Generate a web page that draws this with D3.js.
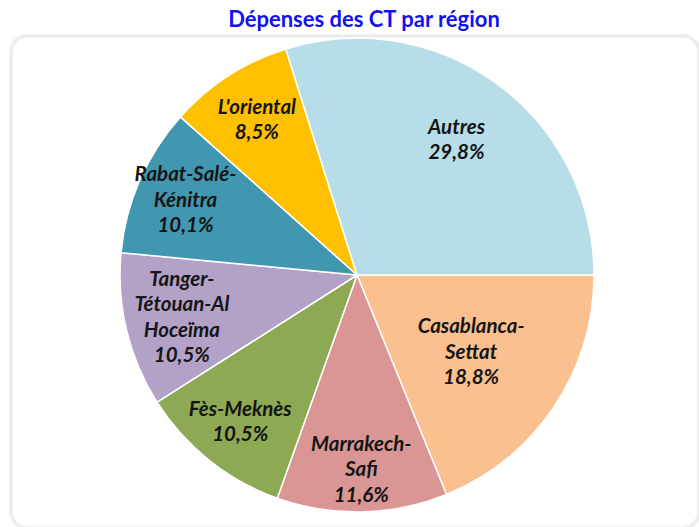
<!DOCTYPE html>
<html>
<head>
<meta charset="utf-8">
<script src="https://cdn.jsdelivr.net/npm/d3@7"></script>
<style>
  body { margin: 0; background: #fff; }
  svg { display: block; }
  .title { font-family: Lato, "Open Sans", sans-serif; font-weight: bold; fill: #1212ee; }
  .slice-label { font-family: Lato, "Open Sans", sans-serif; font-weight: bold; font-style: italic; fill: #151515; }
</style>
</head>
<body>
<div id="svg-container"></div>
<script>
////////////////////////////  Data  ////////////////////////////////
const title = "Dépenses des CT par région";
const regions = [
  "Casablanca-\nSettat",
  "Marrakech-\nSafi",
  "Fès-Meknès",
  "Tanger-\nTétouan-Al\nHoceïma",
  "Rabat-Salé-\nKénitra",
  "L'oriental",
  "Autres"
];
const shares = [18.8, 11.6, 10.5, 10.5, 10.1, 8.5, 29.8];
const colors = ["#fac090", "#d99694", "#8ea953", "#b3a2c7", "#4297b0", "#ffc000", "#b7dde8"];

////////////////////////////  Init  ////////////////////////////////
const width = 699;
const height = 527;
const cx = 357, cy = 275, radius = 237;
// label distance from centre (as share of radius), like Excel's "best fit"
const labelPos = [0.58, 0.82, 0.79, 0.76, 0.79, 0.78, 0.71];
const lineH = 25.5;

const svg = d3.select("#svg-container").append("svg")
  .attr("width", width)
  .attr("height", height);

const defs = svg.append("defs");
const blur = defs.append("filter").attr("id", "soft").attr("x", "-5%").attr("y", "-5%").attr("width", "110%").attr("height", "110%");
blur.append("feGaussianBlur").attr("stdDeviation", 0.8);

// chart frame
svg.append("rect")
  .attr("x", 11).attr("y", 36)
  .attr("width", 688).attr("height", 492)
  .attr("rx", 16)
  .attr("fill", "none")
  .attr("stroke", "#dcdcdc")
  .attr("stroke-width", 2)
  .attr("filter", "url(#soft)");

svg.append("text")
  .attr("class", "title")
  .attr("x", 364)
  .attr("y", 27)
  .attr("text-anchor", "middle")
  .style("font-size", "22px")
  .text(title);

////////////////////////////  Pie  /////////////////////////////////
const data = regions.map((r, i) => ({ region: r, value: shares[i], color: colors[i], lp: labelPos[i] }));

const pie = d3.pie()
  .sort(null)
  .value(d => d.value)
  .startAngle(Math.PI / 2)
  .endAngle(Math.PI / 2 + 2 * Math.PI);

const arc = d3.arc().innerRadius(0).outerRadius(radius);
const arcs = pie(data);

const g = svg.append("g").attr("transform", `translate(${cx},${cy})`);

g.selectAll("path.slice")
  .data(arcs)
  .enter()
  .append("path")
  .attr("class", "slice")
  .attr("d", arc)
  .attr("fill", d => d.data.color)
  .attr("stroke", "#fff")
  .attr("stroke-width", 1.5)
  .attr("stroke-linejoin", "round");

const fmt = v => d3.format(".1f")(v).replace(".", ",") + "%";

const labels = g.selectAll("text.slice-label")
  .data(arcs)
  .enter()
  .append("text")
  .attr("class", "slice-label")
  .style("font-size", "20.5px")
  .attr("text-anchor", "middle")
  .attr("transform", d => {
    const a = (d.startAngle + d.endAngle) / 2;
    const r = radius * d.data.lp;
    return `translate(${r * Math.sin(a)},${-r * Math.cos(a)})`;
  });

labels.each(function (d) {
  const lines = d.data.region.split("\n").concat([fmt(d.data.value)]);
  const y0 = -((lines.length - 1) * lineH) / 2 + 7;
  d3.select(this).selectAll("tspan")
    .data(lines)
    .enter()
    .append("tspan")
    .attr("x", 0)
    .attr("y", (l, i) => y0 + i * lineH)
    .text(l => l);
});
</script>
</body>
</html>
